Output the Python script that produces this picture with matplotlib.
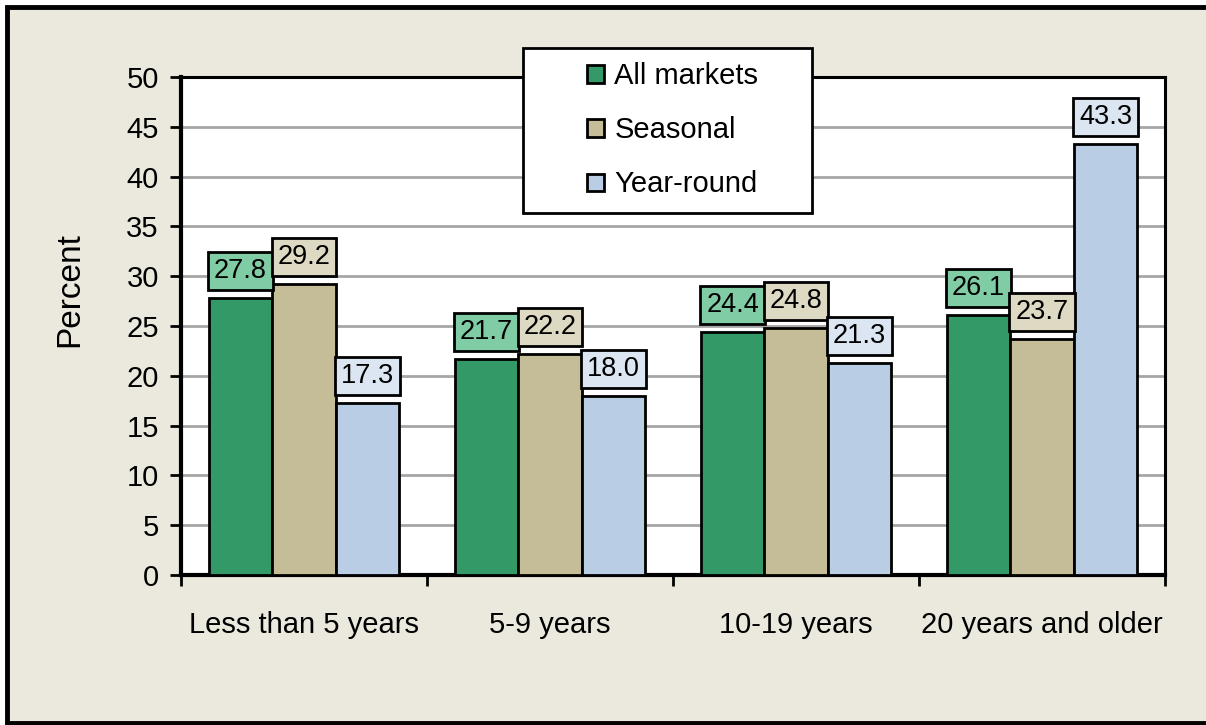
import matplotlib
matplotlib.use("Agg")
import matplotlib.pyplot as plt
from matplotlib.patches import Rectangle, Patch
from matplotlib.legend_handler import HandlerPatch
import numpy as np

plt.rcParams['font.family'] = ['Liberation Sans', 'DejaVu Sans']

categories = ["Less than 5 years", "5-9 years", "10-19 years", "20 years and older"]
series_names = ["All markets", "Seasonal", "Year-round"]
all_markets = [27.8, 21.7, 24.4, 26.1]
seasonal = [29.2, 22.2, 24.8, 23.7]
year_round = [17.3, 18.0, 21.3, 43.3]
yticks = [0, 5, 10, 15, 20, 25, 30, 35, 40, 45, 50]

bar_colors = ["#339966", "#c4bd97", "#b9cde5"]
label_colors = ["#80cca4", "#ddd9c3", "#dce6f2"]

FS = 21
W, H = 1206, 725
fig = plt.figure(figsize=(W / 100, H / 100), dpi=100, facecolor="white")

# outer panel
fig.patches.append(Rectangle((7 / W, 2 / H), 1.2, 1 - 9 / H, transform=fig.transFigure,
                             facecolor="#ebe9dd", edgecolor="black", linewidth=3.5, zorder=-5))

ax = fig.add_axes([181 / W, 1 - 575 / H, (1165 - 181) / W, (575 - 77) / H])
ax.set_facecolor("white")

x = np.arange(len(categories))
bw = 0.258
data = [all_markets, seasonal, year_round]
for i, vals in enumerate(data):
    xs = x + (i - 1) * bw
    ax.bar(xs, vals, width=bw, color=bar_colors[i], edgecolor="black", linewidth=2, zorder=3)
    for xi, v in zip(xs, vals):
        ax.annotate(f"{v:.1f}", (xi, v), xytext=(0, 19.5), textcoords="offset points",
                    ha="center", va="center", fontsize=19.5, zorder=5,
                    bbox=dict(boxstyle="square,pad=0.22", facecolor=label_colors[i],
                              edgecolor="black", linewidth=2))

ax.set_xlim(-0.5, len(categories) - 0.5)
ax.set_ylim(0, 50)
ax.set_yticks(yticks)
ax.set_yticklabels([str(t) for t in yticks], fontsize=FS)
ax.yaxis.grid(True, color="#a6a6a6", linewidth=2, zorder=0)
ax.set_axisbelow(True)

ax.set_xticks(np.arange(len(categories) + 1) - 0.5)
ax.set_xticklabels([])
ax.set_xticks(x, minor=True)
ax.set_xticklabels(categories, minor=True, fontsize=FS)
ax.tick_params(axis="x", which="major", direction="out", length=8, width=2, color="black")
ax.tick_params(axis="x", which="minor", length=0, pad=26)
ax.tick_params(axis="y", direction="out", length=8, width=2, color="black", pad=8)
for s in ax.spines.values():
    s.set_linewidth(2.2)
    s.set_color("black")
ax.spines["left"].set_linewidth(3)
ax.spines["bottom"].set_linewidth(3)

fig.text(70 / W, 1 - 290 / H, "Percent", rotation=90, ha="center", va="center", fontsize=FS + 3)


def small_square(legend, orig_handle, xdescent, ydescent, width, height, fontsize):
    s = 12.5  # points
    return Rectangle((-xdescent + width - s, -ydescent + (height - s) / 2), s, s)


handles = [Patch(facecolor=c, edgecolor="black", linewidth=2) for c in bar_colors]
leg = fig.legend(handles, series_names, loc="upper left", mode="expand",
                 bbox_to_anchor=(523 / W, 1 - 210 / H, (812 - 523) / W, (210 - 48) / H),
                 fontsize=FS, frameon=True, fancybox=False, framealpha=1,
                 handler_map={Patch: HandlerPatch(patch_func=small_square)},
                 handlelength=2.3, handleheight=0.8, handletextpad=0.35,
                 labelspacing=0.9, borderpad=0.48, borderaxespad=0)
leg.get_frame().set_edgecolor("black")
leg.get_frame().set_linewidth(2)
leg.get_frame().set_facecolor("white")
leg.set_zorder(10)

fig.savefig("out.png", dpi=100, facecolor=fig.get_facecolor())
